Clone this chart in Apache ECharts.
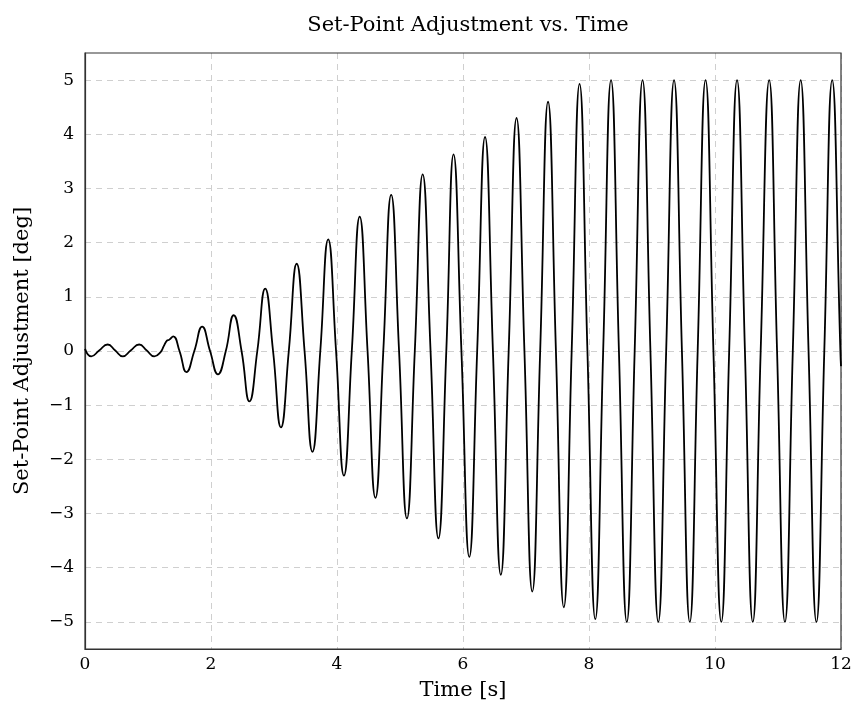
<!DOCTYPE html>
<html>
<head>
<meta charset="utf-8">
<script src="https://cdn.jsdelivr.net/npm/echarts@6/dist/echarts.min.js"></script>
<style>html,body{margin:0;padding:0;background:#fff}#c{width:860px;height:715px}</style>
</head>
<body>
<div id="c"></div>
<script>
// Time samples [s] (extrema and zero crossings)
var time = [
  0.00, 0.10, 0.225, 0.36, 0.48, 0.60, 0.725, 0.86, 0.98, 1.10,
  1.20, 1.25, 1.30, 1.34, 1.40, 1.50, 1.61, 1.735, 1.86, 1.985,
  2.11, 2.235, 2.36, 2.485, 2.61, 2.735, 2.86, 2.985, 3.11, 3.235,
  3.36, 3.485, 3.61, 3.735, 3.86, 3.985, 4.11, 4.235, 4.36, 4.485,
  4.61, 4.735, 4.86, 4.985, 5.11, 5.235, 5.36, 5.485, 5.61, 5.735,
  5.85, 5.975, 6.10, 6.225, 6.35, 6.475, 6.60, 6.725, 6.85, 6.975,
  7.10, 7.225, 7.35, 7.475, 7.60, 7.725, 7.85, 7.975, 8.10, 8.225,
  8.35, 8.475, 8.60, 8.725, 8.85, 8.975, 9.10, 9.225, 9.35, 9.475,
  9.60, 9.725, 9.85, 9.975, 10.10, 10.225, 10.35, 10.475, 10.60, 10.725,
  10.86, 10.985, 11.11, 11.235, 11.36, 11.485, 11.61, 11.735, 11.86, 11.99,
  12.00
];
// Set-point adjustment [deg]
var adjustment = [
  0.04, -0.10, 0.01, 0.12, 0.01, -0.10, 0.01, 0.12, 0.01, -0.10,
  -0.02, 0.09, 0.19, 0.21, 0.27, 0.00, -0.39, 0.00, 0.45, 0.00,
  -0.43, 0.00, 0.66, 0.00, -0.93, 0.00, 1.15, 0.00, -1.41, 0.00,
  1.61, 0.00, -1.86, 0.00, 2.06, 0.00, -2.30, 0.00, 2.48, 0.00,
  -2.71, 0.00, 2.88, 0.00, -3.09, 0.00, 3.26, 0.00, -3.46, 0.00,
  3.63, 0.00, -3.80, 0.00, 3.95, 0.00, -4.13, 0.00, 4.30, 0.00,
  -4.44, 0.00, 4.60, 0.00, -4.73, 0.00, 4.93, 0.00, -4.95, 0.00,
  5.00, 0.00, -5.00, 0.00, 5.00, 0.00, -5.00, 0.00, 5.00, 0.00,
  -5.00, 0.00, 5.00, 0.00, -5.00, 0.00, 5.00, 0.00, -5.00, 0.00,
  5.00, 0.00, -5.00, 0.00, 5.00, 0.00, -5.00, 0.00, 5.00, 0.00,
  -0.28
];
var xTicks = [0, 2, 4, 6, 8, 10, 12];
var yTicks = [-5, -4, -3, -2, -1, 0, 1, 2, 3, 4, 5];

var FONT = '"DejaVu Serif", "Liberation Serif", serif';
var pts = time.map(function (t, i) { return [t, adjustment[i]]; });

// plot frame (y range -5.5..5.5), and an inner grid whose y axis spans -5..5 for integer ticks
var TOP = 53, BOTTOM = 66, LEFT = 85, RIGHT = 19;
var H = 715 - TOP - BOTTOM;
var half = H / 11 * 0.5;

var gridLine = {show: true, lineStyle: {color: '#cfcfcf', type: [6, 5], width: 1}};

var chart = echarts.init(document.getElementById('c'), null, {renderer: 'canvas'});
chart.setOption({
  animation: false,
  backgroundColor: '#fff',
  title: {
    text: 'Set-Point Adjustment vs. Time',
    left: 463, top: 10, textAlign: 'center',
    textStyle: {fontFamily: FONT, fontSize: 21, fontWeight: 'normal', color: '#000'}
  },
  grid: [
    {left: LEFT, right: RIGHT, top: TOP, bottom: BOTTOM, show: true, borderColor: '#333', borderWidth: 1.2, z: 3},
    {left: LEFT, right: RIGHT, top: TOP + half, bottom: BOTTOM + half, show: false}
  ],
  xAxis: [{
    gridIndex: 0, type: 'value', min: 0, max: 12, interval: 2,
    name: 'Time [s]', nameLocation: 'middle', nameGap: 31,
    nameTextStyle: {fontFamily: FONT, fontSize: 21, color: '#000'},
    axisLine: {show: true, onZero: false, lineStyle: {color: '#333', width: 1.2}},
    axisTick: {show: false},
    axisLabel: {fontFamily: FONT, fontSize: 17, color: '#000', margin: 7,
      formatter: function (v) { return xTicks.indexOf(v) >= 0 ? String(v) : ''; }},
    splitLine: gridLine
  }, {
    gridIndex: 1, type: 'value', min: 0, max: 12, show: false
  }],
  yAxis: [{
    gridIndex: 0, type: 'value', min: -5.5, max: 5.5,
    name: 'Set-Point Adjustment [deg]', nameLocation: 'middle', nameGap: 52,
    nameTextStyle: {fontFamily: FONT, fontSize: 21, color: '#000'},
    axisLine: {show: true, onZero: false, lineStyle: {color: '#333', width: 1.2}},
    axisTick: {show: false},
    axisLabel: {show: false},
    splitLine: {show: false}
  }, {
    gridIndex: 1, type: 'value', min: -5, max: 5, interval: 1,
    axisLine: {show: false},
    axisTick: {show: false},
    axisLabel: {fontFamily: FONT, fontSize: 17, color: '#000', margin: 11,
      formatter: function (v) {
        var r = Math.round(v);
        if (yTicks.indexOf(r) < 0) return '';
        return r < 0 ? '\u2212' + Math.abs(r) : String(r);
      }},
    splitLine: gridLine
  }],
  series: [{
    type: 'line', xAxisIndex: 0, yAxisIndex: 0, data: pts, smooth: 0.5, symbol: 'none',
    lineStyle: {color: '#000', width: 1.8}, clip: true, z: 4
  }]
});
</script>
</body>
</html>
